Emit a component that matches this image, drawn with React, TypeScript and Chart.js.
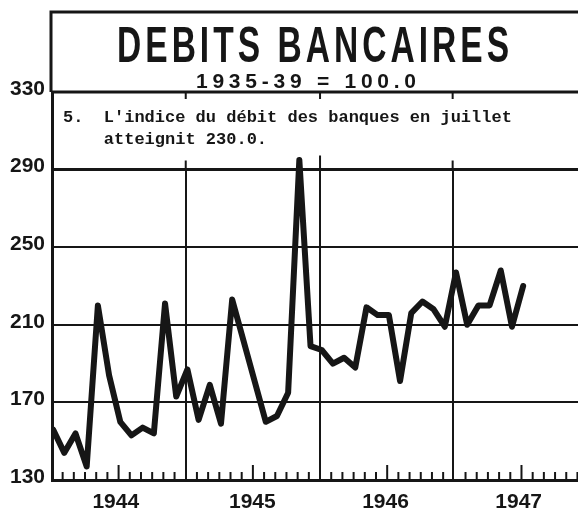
import React, { useEffect, useRef } from "react";
import { Chart, registerables } from "chart.js";

Chart.register(...registerables);

// ---- data (monthly index, 1935-39 = 100.0) ----
const values1944 = [156, 144, 154, 137, 220, 184, 160, 153, 157, 154, 221, 173];
const values1945 = [187, 161, 179, 159, 223, 202, 181, 160, 163, 175, 295, 199];
const values1946 = [197, 190, 193, 188, 219, 215, 215, 181, 216, 222, 218, 209];
const values1947 = [237, 210, 220, 220, 238, 209, 230];
const yearLabels = ["1944", "1945", "1946", "1947"];
const yTickValues = [130, 170, 210, 250, 290, 330];
const titleText = "DEBITS BANCAIRES";
const subtitleText = "1935-39 = 100.0";
const noteLines = ["5.  L'indice du débit des banques en juillet", "    atteignit 230.0."];

const allValues = [...values1944, ...values1945, ...values1946, ...values1947];

const INK = "#161616";
const X_MIN = -0.1;
const X_MAX = 46.9;
const yearLinePos = [11.85, 23.85, 35.7];
const yearLabelPos = [5.6, 17.8, 29.7, 41.6];

const decorPlugin = {
  id: "decor",
  beforeDatasetsDraw(chart: any) {
    const { ctx, chartArea: ca, scales } = chart;
    const y = scales.y;
    const x = scales.x;
    const y330 = y.getPixelForValue(330);
    const y290 = y.getPixelForValue(290);
    ctx.save();
    // white note band between 290 and 330
    ctx.fillStyle = "#ffffff";
    ctx.fillRect(ca.left + 2, y330, ca.right - ca.left, y290 - y330);
    ctx.strokeStyle = INK;
    ctx.lineWidth = 3;
    [y330, y290].forEach((py) => {
      ctx.beginPath();
      ctx.moveTo(ca.left, py);
      ctx.lineTo(ca.right, py);
      ctx.stroke();
    });
    // small marks where year lines meet the band
    ctx.lineWidth = 2;
    yearLinePos.forEach((v, i) => {
      const px = x.getPixelForValue(v);
      ctx.beginPath();
      ctx.moveTo(px, y330);
      ctx.lineTo(px, y330 + 7);
      ctx.moveTo(px, y290);
      ctx.lineTo(px, y290 - (i === 1 ? 14 : 9));
      ctx.stroke();
    });
    // note text
    ctx.fillStyle = INK;
    ctx.font = 'bold 17px "Liberation Mono", monospace';
    ctx.textBaseline = "alphabetic";
    ctx.textAlign = "left";
    ctx.fillText(noteLines[0], 63, y330 + 30);
    ctx.fillText(noteLines[1], 63, y330 + 52);
    ctx.restore();
  },
  afterDraw(chart: any) {
    const { ctx, chartArea: ca, scales } = chart;
    const x = scales.x;
    ctx.save();
    // title frame
    ctx.strokeStyle = INK;
    ctx.lineWidth = 3;
    ctx.beginPath();
    ctx.moveTo(ca.left - 1, ca.top);
    ctx.lineTo(ca.left - 1, 12);
    ctx.lineTo(ca.right, 12);
    ctx.stroke();
    // title
    ctx.fillStyle = INK;
    ctx.textAlign = "left";
    ctx.textBaseline = "alphabetic";
    ctx.font = 'bold 50px "Liberation Sans", Arial, sans-serif';
    (ctx as any).letterSpacing = "6px";
    const tw = ctx.measureText(titleText).width - 6;
    const targetW = 392;
    const sx = targetW / tw;
    ctx.save();
    ctx.translate(313 - targetW / 2, 62);
    ctx.scale(sx, 1);
    ctx.fillText(titleText, 0, 0);
    ctx.restore();
    (ctx as any).letterSpacing = "0px";
    // subtitle
    ctx.font = 'bold 21px "Liberation Sans", Arial, sans-serif';
    const sw = ctx.measureText(subtitleText).width;
    const subTarget = 220;
    const ls = (subTarget - sw) / (subtitleText.length - 1);
    (ctx as any).letterSpacing = ls.toFixed(2) + "px";
    ctx.fillText(subtitleText, 306 - subTarget / 2, 88);
    (ctx as any).letterSpacing = "0px";
    // month ticks along the bottom axis
    ctx.lineWidth = 2;
    for (let k = 1; k <= 47; k++) {
      if (k % 12 === 0) continue;
      const px = x.getPixelForValue(k - 0.15);
      if (px > ca.right) break;
      const h = k % 12 === 6 ? 15 : 8;
      ctx.beginPath();
      ctx.moveTo(px, ca.bottom);
      ctx.lineTo(px, ca.bottom - h);
      ctx.stroke();
    }
    ctx.restore();
  },
};

export default function App() {
  const canvasRef = useRef<HTMLCanvasElement | null>(null);

  useEffect(() => {
    document.body.style.margin = "0";
    document.body.style.background = "#ffffff";
    const canvas = canvasRef.current;
    if (!canvas) return;
    const points = allValues.map((v, i) => ({ x: i, y: v }));
    const chart = new Chart(canvas, {
      type: "line",
      data: {
        datasets: [
          {
            data: points,
            borderColor: INK,
            borderWidth: 6,
            borderJoinStyle: "round",
            borderCapStyle: "round",
            pointRadius: 0,
            tension: 0,
            fill: false,
          },
        ],
      },
      options: {
        animation: false,
        responsive: false,
        devicePixelRatio: 1,
        parsing: false,
        layout: { padding: { top: 92, left: 0, right: 0, bottom: 0 } },
        plugins: {
          legend: { display: false },
          tooltip: { enabled: false },
          title: { display: false },
        },
        scales: {
          x: {
            type: "linear",
            position: "bottom",
            min: X_MIN,
            max: X_MAX,
            afterBuildTicks: (s: any) => {
              s.ticks = yearLabelPos.map((v) => ({ value: v }));
            },
            afterFit: (s: any) => {
              s.height = 31;
            },
            grid: { display: false, drawTicks: false },
            border: { display: true, color: INK, width: 3 },
            ticks: {
              autoSkip: false,
              maxRotation: 0,
              padding: 10,
              color: INK,
              font: { family: '"Liberation Sans", Arial, sans-serif', size: 21, weight: "bold" },
              callback: (_v: any, i: number) => yearLabels[i],
            },
          },
          xg: {
            type: "linear",
            position: "bottom",
            min: X_MIN,
            max: X_MAX,
            afterBuildTicks: (s: any) => {
              s.ticks = yearLinePos.map((v) => ({ value: v }));
            },
            afterFit: (s: any) => {
              s.height = 0;
            },
            grid: { display: true, color: INK, lineWidth: 2, drawTicks: false },
            border: { display: false },
            ticks: { display: false },
          },
          y: {
            type: "linear",
            min: 130,
            max: 330,
            afterBuildTicks: (s: any) => {
              s.ticks = yTickValues.map((v) => ({ value: v }));
            },
            afterFit: (s: any) => {
              s.width = 52;
            },
            grid: {
              color: INK,
              lineWidth: (c: any) => (c.tick && (c.tick.value === 330 || c.tick.value === 290) ? 3 : 2),
              drawTicks: false,
            },
            border: { display: true, color: INK, width: 3 },
            ticks: {
              padding: 7,
              labelOffset: -3,
              color: INK,
              font: { family: '"Liberation Sans", Arial, sans-serif', size: 21, weight: "bold" },
            },
          },
        },
      },
      plugins: [decorPlugin],
    } as any);
    return () => chart.destroy();
  }, []);

  return (
    <div style={{ width: 578, height: 511, background: "#ffffff" }}>
      <canvas ref={canvasRef} width={578} height={511} style={{ display: "block" }} />
    </div>
  );
}
